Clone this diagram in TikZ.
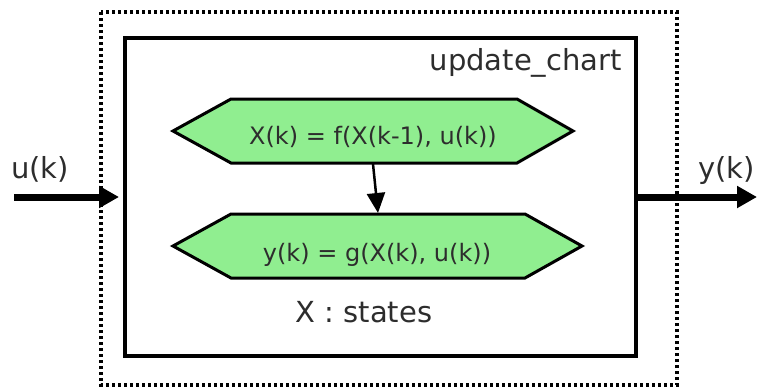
\documentclass[tikz,border=0pt]{standalone}
\usepackage{fontspec}
\setmainfont{DejaVu Sans}
\usetikzlibrary{arrows.meta}
\definecolor{hexgreen}{RGB}{144,238,144}
\definecolor{txt}{RGB}{45,45,45}
\begin{document}
\begin{tikzpicture}[x=1pt,y=-1pt,
  lbl/.style={font=\fontsize{29}{34}\selectfont, text=txt, inner sep=0pt},
  hextxt/.style={font=\fontsize{24}{28}\selectfont, text=txt, inner sep=0pt},
  hexbox/.style={draw=black, line width=3pt, fill=hexgreen, line join=miter},
  chartbox/.style={draw=black, line width=4pt, inner sep=0pt, minimum width=511pt, minimum height=318pt},
  dotbox/.style={draw=black, line width=3.5pt, dash pattern=on 3.2pt off 2.8pt},
  bigarrow/.style={line width=7pt, -{Triangle[length=20pt,width=21pt]}},
  smallarrow/.style={line width=2.5pt, -{Triangle[length=20pt,width=18pt]}}]
\useasboundingbox (0,0) rectangle (758,389);
% outer dotted box
\draw[dotbox] (101,12) rectangle (677,385);
% inner chart box
\node[chartbox] (chart) at (380.5,197) {};
\node[lbl, anchor=base east] (title) at (622,70) {update\_chart};
% hexagons
\draw[hexbox] (173,131) -- (231,99) -- (517,99) -- (573,131) -- (517,163) -- (231,163) -- cycle;
\draw[hexbox] (173,246) -- (231,214) -- (525,214) -- (582,246) -- (525,278) -- (231,278) -- cycle;
\node[hextxt, anchor=base] (f) at (373,144) {X(k) = f(X(k-1), u(k))};
\node[hextxt, anchor=base] (g) at (377,261) {y(k) = g(X(k), u(k))};
\coordinate (h1b) at (373,164);
\coordinate (h2t) at (378,213);
\draw[smallarrow] (h1b) -- (h2t);
\node[lbl, anchor=base] (states) at (364,322) {X : states};
% input / output
\coordinate (uin) at (14,197);
\coordinate (yout) at (757,197);
\draw[bigarrow, shorten >=4pt] (uin) -- (chart.west);
\draw[bigarrow] (chart.east) -- (yout);
\node[lbl, anchor=base west] (u) at (11,178) {u(k)};
\node[lbl, anchor=base west] (y) at (698,178) {y(k)};
\end{tikzpicture}
\end{document}
